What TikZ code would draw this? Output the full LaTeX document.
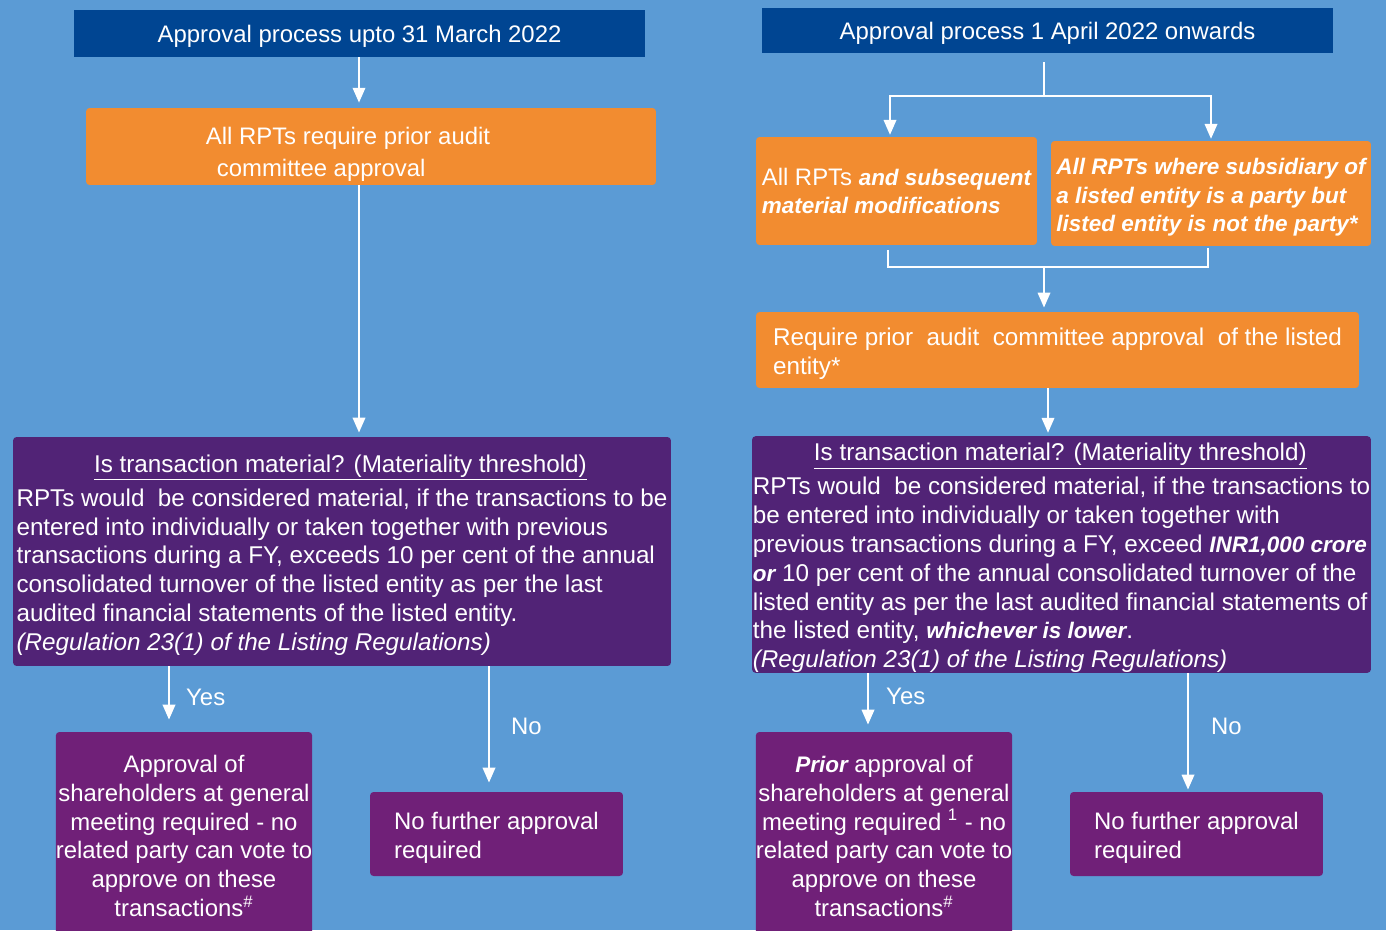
\documentclass[tikz,border=0pt]{standalone}
\usepackage{fontspec}
\setmainfont{Liberation Sans}
\usetikzlibrary{arrows.meta}

\definecolor{bgblue}{RGB}{91,155,213}
\definecolor{hdrblue}{RGB}{0,69,146}
\definecolor{rptorange}{RGB}{242,140,48}
\definecolor{matpurple}{RGB}{81,35,118}
\definecolor{respurple}{RGB}{112,32,120}

% bold italic phrases are set a little smaller
\newcommand\bi[1]{{\fontsize{12.8}{16.4}\selectfont\bfseries\itshape #1}}
\newcommand\boxstrut[1]{\rule{0pt}{#1}}

\begin{document}
\begin{tikzpicture}[x=0.02cm, y=-0.02cm,
  txt/.style={text=white, font=\fontsize{13.6}{16.4}\selectfont},
  bigtxt/.style={text=white, font=\fontsize{13.8}{16.4}\selectfont},
  hdr/.style={txt, fill=hdrblue, inner sep=0pt, text height=9.7pt, text depth=0pt},
  box/.style={txt, rounded corners=2pt, inner sep=0pt},
  orgbox/.style={box, fill=rptorange},
  matbox/.style={box, bigtxt, fill=matpurple, align=left},
  resbox/.style={box, fill=respurple},
  arr/.style={white, line width=1.4pt, -{Triangle[length=8.5pt, width=7pt]}},
  wline/.style={white, line width=1.4pt},
  bracket/.style={white, line width=0.8pt}]

\useasboundingbox (0,0) rectangle (1386,930);
\fill[bgblue] (0,0) rectangle (1386,930);
\clip (0,0) rectangle (1386,930);

% left: up to 31 March 2022
\node[hdr, minimum width=11.42cm, minimum height=0.94cm] (hdrL) at (359.5,33.5) {Approval process upto 31 March 2022};
\node[orgbox, minimum width=11.40cm, minimum height=1.54cm, align=left] (orgL) at (371,146.5) {\boxstrut{19pt}All RPTs require prior audit\hspace*{0.92cm}\\[1.7pt] \hspace*{0.22cm}committee approval};
\node[matbox, minimum width=13.16cm, minimum height=4.58cm] (matL) at (342,551.5) {\makebox[12.96cm]{\boxstrut{14pt}\underline{Is transaction material? (Materiality threshold)}}\\[3pt]
  RPTs would\ \ be considered material, if the transactions to be\\
  entered into individually or taken together with previous\\
  transactions during a FY, exceeds 10 per cent of the annual\\
  consolidated turnover of the listed entity as per the last\\
  audited financial statements of the listed entity.\\
  \textit{(Regulation 23(1) of the Listing Regulations)}};
\node[resbox, minimum width=5.12cm, minimum height=4.16cm, align=center] (yesL) at (184,836) {Approval of\\ shareholders at general\\ meeting required - no\\ related party can vote to\\ approve on these\\ transactions\textsuperscript{\#}};
\node[resbox, minimum width=5.06cm, minimum height=1.68cm, align=left] (noL) at (496.5,834) {\boxstrut{14pt}No further approval\\ required};

% right: 1 April 2022 onwards
\node[hdr, minimum width=11.42cm, minimum height=0.90cm] (hdrR) at (1047.5,30.5) {Approval process 1 April 2022 onwards};
\node[orgbox, minimum width=5.62cm, minimum height=2.16cm, align=left] (orgR1) at (896.5,191) {All RPTs \bi{and subsequent}\\ \bi{material modifications}};
\node[orgbox, minimum width=6.40cm, minimum height=2.10cm, align=left, font=\fontsize{12.8}{16.4}\selectfont\bfseries\itshape] (orgR2) at (1211,193.5) {\boxstrut{13.5pt}All RPTs where subsidiary of\\ a listed entity is a party but\\ listed entity is not the party*};
\node[orgbox, bigtxt, minimum width=12.06cm, minimum height=1.52cm, align=left] (orgR3) at (1057.5,350) {\boxstrut{14pt}Require prior\ \ audit\ \ committee approval\ \ of the listed\\ entity*};
\node[matbox, minimum width=12.38cm, minimum height=4.70cm] (matR) at (1061.5,554.5) {\makebox[12.3cm]{\boxstrut{14pt}\underline{Is transaction material? (Materiality threshold)}}\\[3pt]
  RPTs would\ \ be considered material, if the transactions to\\
  be entered into individually or taken together with\\
  previous transactions during a FY, exceed \bi{INR1,000 crore}\\
  \bi{or} 10 per cent of the annual consolidated turnover of the\\
  listed entity as per the last audited financial statements of\\
  the listed entity, \bi{whichever is lower}.\\
  \textit{(Regulation 23(1) of the Listing Regulations)}};
\node[resbox, minimum width=5.12cm, minimum height=4.16cm, align=center] (yesR) at (884,836) {\bi{Prior} approval of\\ shareholders at general\\ meeting required \textsuperscript{1} - no\\ related party can vote to\\ approve on these\\ transactions\textsuperscript{\#}};
\node[resbox, minimum width=5.06cm, minimum height=1.68cm, align=left] (noR) at (1196.5,834) {\boxstrut{14pt}No further approval\\ required};

\coordinate (splitR) at (1044,96);
\coordinate (joinR) at (1044,267);

% connectors, left
\draw[arr, shorten >=2.8pt] ([xshift=-0.01cm]hdrL.south) -- ([xshift=-0.01cm]hdrL.south |- orgL.north);
\draw[arr, shorten >=2.3pt] ([xshift=-0.01cm]hdrL.south |- orgL.south) -- ([xshift=-0.01cm]hdrL.south |- matL.north);
\draw[arr] ([xshift=-0.3cm]yesL.north |- matL.south) -- node[txt, right, inner sep=0pt, xshift=0.32cm, pos=0.58] {Yes} ([xshift=-0.3cm, yshift=0.24cm]yesL.north);
\draw[arr] ([xshift=-0.15cm]noL.north |- matL.south) -- node[txt, right, inner sep=0pt, xshift=0.42cm, pos=0.52] {No} ([xshift=-0.15cm, yshift=0.18cm]noL.north);

% connectors, right
\draw[wline, shorten <=5pt] (hdrR.south -| splitR) -- (splitR);
\draw[arr, shorten >=1pt] (splitR) -| ([xshift=-0.13cm]orgR1.north);
\draw[arr, shorten >=1pt] (splitR) -| (orgR2.north);
\draw[bracket] ([xshift=-0.17cm, yshift=-0.1cm]orgR1.south) |- (joinR) -| ([xshift=-0.06cm, yshift=-0.04cm]orgR2.south);
\draw[arr, shorten >=2.3pt] (joinR) -- (joinR |- orgR3.north);
\draw[arr, shorten >=1.7pt] ([xshift=-0.19cm]orgR3.south) -- ([xshift=-0.19cm]orgR3.south |- matR.north);
\draw[arr] ([xshift=-0.32cm]yesR.north |- matR.south) -- node[txt, right, inner sep=0pt, xshift=0.34cm, pos=0.46] {Yes} ([xshift=-0.32cm, yshift=0.14cm]yesR.north);
\draw[arr] ([xshift=-0.17cm]noR.north |- matR.south) -- node[txt, right, inner sep=0pt, xshift=0.44cm, pos=0.46] {No} ([xshift=-0.17cm, yshift=0.04cm]noR.north);

\end{tikzpicture}
\end{document}
